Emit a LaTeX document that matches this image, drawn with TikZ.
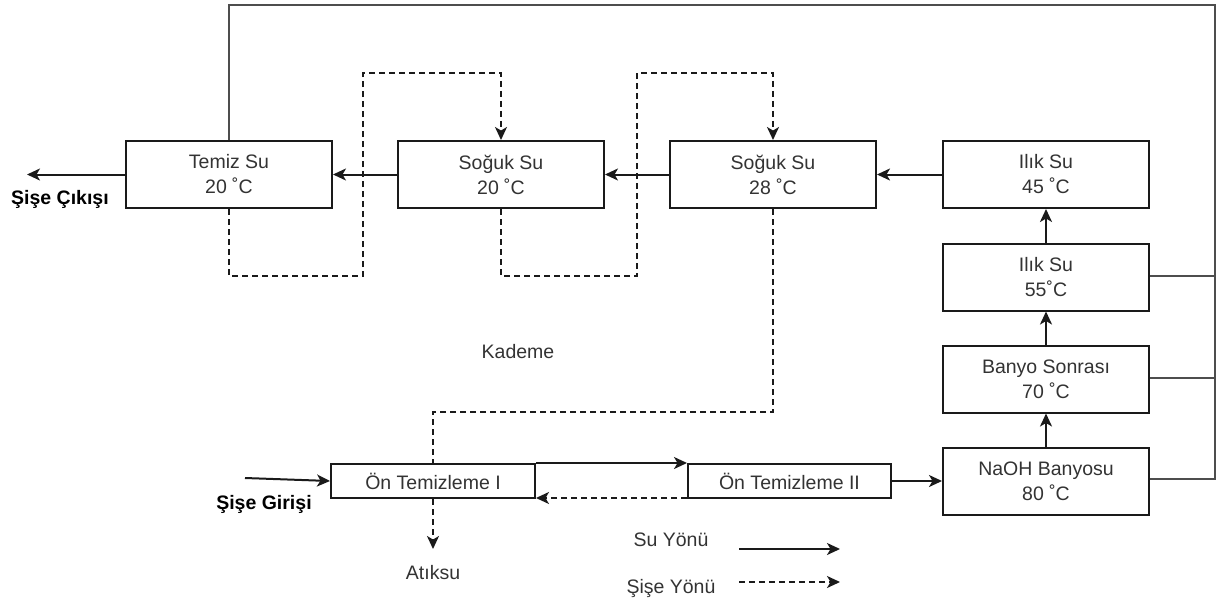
\documentclass[tikz,border=0pt]{standalone}
\usepackage{fontspec}
\setmainfont{Liberation Sans}
\usetikzlibrary{arrows.meta}
\definecolor{txt}{HTML}{333333}
\definecolor{ln}{HTML}{1A1A1A}
\definecolor{gl}{HTML}{4D4D4D}
\begin{document}
\begin{tikzpicture}[x=1pt,y=-1pt,
  box/.style={draw=ln,line width=2pt,fill=white,minimum width=206pt,minimum height=67pt,
    align=center,text=txt,font=\fontsize{19.5}{25}\selectfont,inner sep=0pt},
  sbox/.style={box,minimum height=34pt},
  lbl/.style={text=txt,font=\fontsize{19.5}{24}\selectfont,inner sep=0pt},
  blbl/.style={text=black,font=\fontsize{19.5}{24}\selectfont\bfseries,inner sep=0pt},
  tip/.style={-{Stealth[length=13pt,width=12pt,inset=3.5pt]}},
  sarr/.style={draw=ln,line width=2pt,tip},
  darr/.style={draw=ln,line width=1.8pt,dash pattern=on 6pt off 4pt,tip},
  dline/.style={draw=ln,line width=1.8pt,dash pattern=on 6pt off 4pt},
  gline/.style={draw=gl,line width=2pt}]
\useasboundingbox (0,0) rectangle (1224,610);

% boxes
\node[box] (temiz) at (229,174.5) {Temiz Su\\20 ˚C};
\node[box] (s20) at (501,174.5) {Soğuk Su\\20 ˚C};
\node[box] (s28) at (773,174.5) {Soğuk Su\\28 ˚C};
\node[box] (i45) at (1046,174.5) {Ilık Su\\45 ˚C};
\node[box] (i55) at (1046,277) {Ilık Su\\55˚C};
\node[box] (banyo) at (1046,379) {Banyo Sonrası\\70 ˚C};
\node[box] (naoh) at (1046,481) {NaOH Banyosu\\80 ˚C};
\node[sbox,minimum width=204pt] (on1) at (433,481) {Ön Temizleme I};
\node[sbox,minimum width=203pt] (on2) at (789.5,481) {Ön Temizleme II};

% labels
\node[blbl] (cikis) at (60,199) {Şişe Çıkışı};
\node[blbl] (giris) at (264,504) {Şişe Girişi};
\node[lbl] (kademe) at (518,352) {Kademe};
\node[lbl] (atiksu) at (433,573) {Atıksu};
\node[lbl] (suy) at (671,540) {Su Yönü};
\node[lbl] (sisey) at (671,588) {Şişe Yönü};

% coordinates
\coordinate (out) at (27,174.5);
\coordinate (tr) at (1215,5);
\coordinate (l1b) at (363,276);
\coordinate (l1t) at (363,73);
\coordinate (l2b) at (637,276);
\coordinate (l2t) at (637,73);
\coordinate (k) at (433,412);
\coordinate (in) at (245,478);
\coordinate (waste) at (433,549);
\coordinate (la1) at (739,549);
\coordinate (la2) at (840,549);
\coordinate (lb1) at (739,582);
\coordinate (lb2) at (840,582);

% water flow (solid)
\draw[sarr] (i45.west) -- (s28.east);
\draw[sarr] (s28.west) -- (s20.east);
\draw[sarr] (s20.west) -- (temiz.east);
\draw[sarr] (temiz.west) -- (out);
\draw[sarr] (naoh.north) -- (banyo.south);
\draw[sarr] (banyo.north) -- (i55.south);
\draw[sarr] (i55.north) -- (i45.south);
\draw[sarr] (on2.east) -- (naoh.west);
\draw[sarr] (on1.north east) -- (on2.north west);
\draw[sarr] (in) -- (on1.west);

% return lines
\draw[gline] (temiz.north) |- (tr) |- ([yshift=2pt]naoh.east);
\draw[gline] ([yshift=1pt]i55.east) -- ([yshift=1pt]i55.east -| tr);
\draw[gline] ([yshift=1pt]banyo.east) -- ([yshift=1pt]banyo.east -| tr);

% bottle flow (dashed)
\draw[darr] (temiz.south) |- (l1b) -- (l1t) -| (s20.north);
\draw[darr] (s20.south) |- (l2b) -- (l2t) -| (s28.north);
\draw[dline] (s28.south) |- (k) -- (on1.north);
\draw[darr] ([yshift=1pt]on2.south west) -- ([yshift=1pt]on1.south east);
\draw[darr] (on1.south) -- (waste);

% legend
\draw[sarr] (la1) -- (la2);
\draw[darr] (lb1) -- (lb2);
\end{tikzpicture}
\end{document}
